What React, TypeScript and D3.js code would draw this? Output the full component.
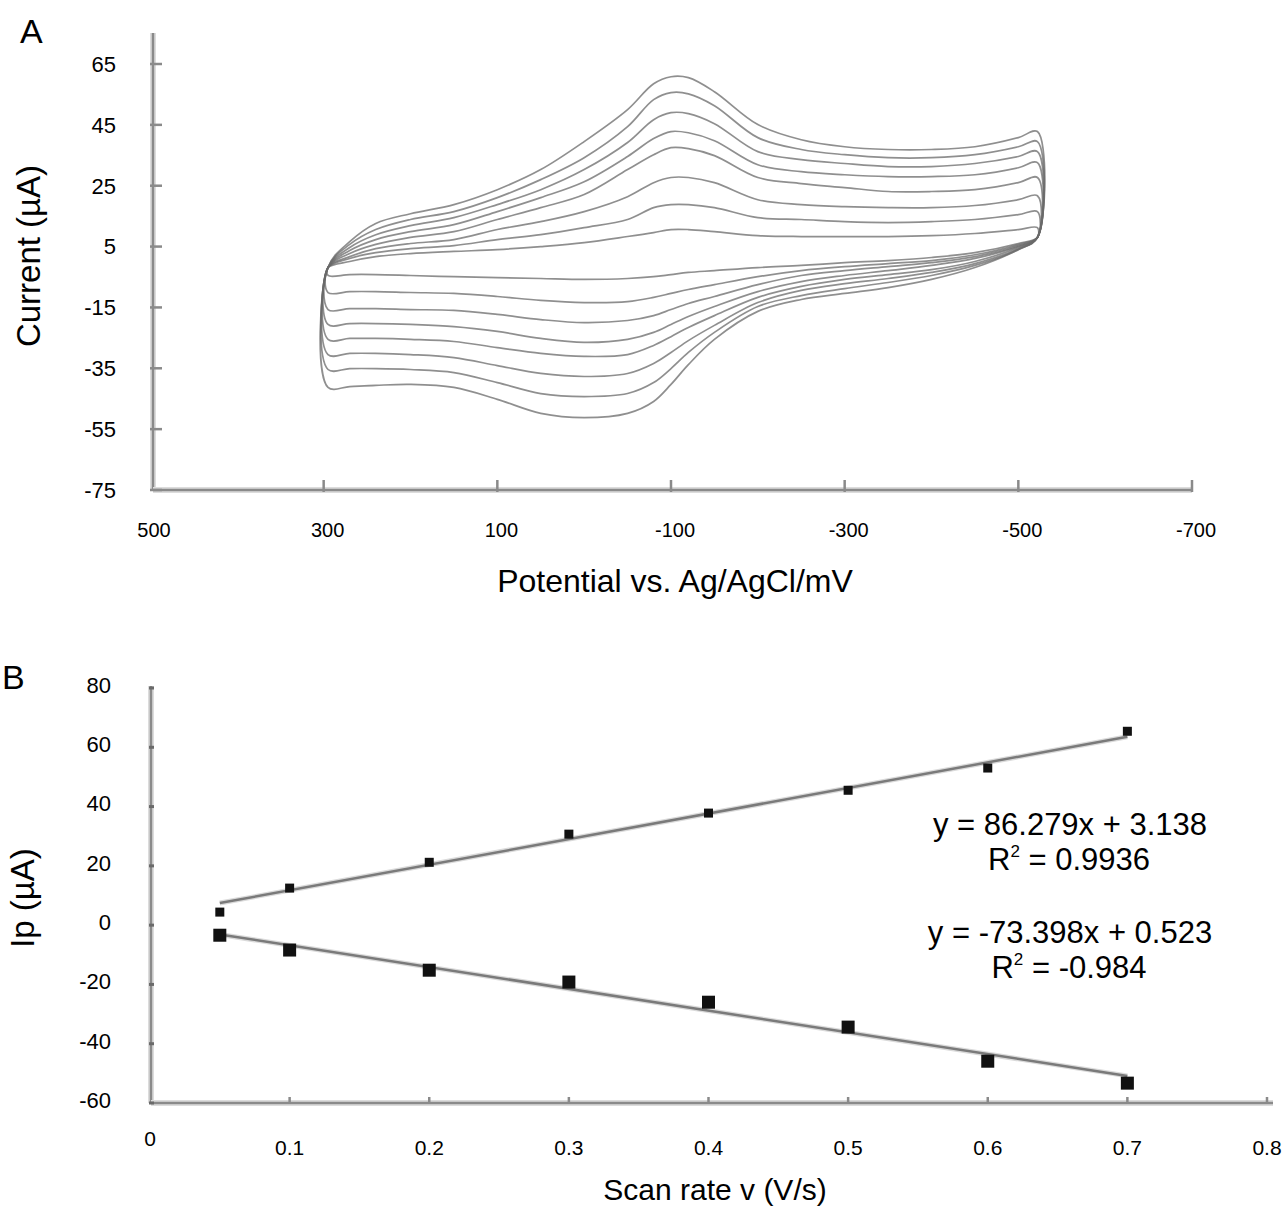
import { useEffect, useRef } from 'react';
import * as d3 from 'd3';

// potentials (mV) where each voltammogram was read
const potentials = [295, 270, 240, 200, 150, 100, 50, 0, -50, -80, -100, -120, -150, -200, -250, -300, -350, -400, -450, -500, -522];

// forward (upper) branches, uA, one per scan rate
const forwardScans = [
  [-1.9, 0.1, 1.7, 2.7, 3.4, 4.0, 5.0, 6.3, 8.3, 9.6, 10.6, 10.6, 9.9, 8.6, 8.3, 8.3, 8.3, 8.6, 9.3, 10.6, 11.2],
  [-1.9, 1.1, 3.0, 4.3, 5.3, 7.3, 8.9, 11.2, 13.9, 17.8, 18.8, 18.8, 17.8, 14.5, 13.9, 13.2, 12.9, 13.2, 13.9, 15.5, 16.5],
  [-1.9, 1.7, 4.3, 6.0, 7.3, 10.6, 13.2, 16.5, 21.4, 26.0, 27.7, 27.7, 26.0, 20.4, 18.8, 18.1, 17.8, 17.8, 18.5, 20.4, 21.7],
  [-1.9, 2.7, 5.7, 8.0, 9.9, 13.9, 17.8, 22.1, 30.3, 35.2, 37.5, 37.2, 34.9, 27.7, 25.7, 24.4, 23.1, 23.1, 23.7, 26.0, 27.7],
  [-1.9, 3.7, 7.3, 9.9, 12.2, 16.5, 21.1, 26.3, 34.6, 40.5, 42.8, 42.4, 39.8, 31.9, 29.6, 28.6, 28.0, 28.0, 28.6, 30.9, 32.6],
  [-1.9, 4.7, 8.9, 11.9, 14.5, 18.8, 23.7, 30.3, 39.2, 46.7, 49.0, 48.7, 45.4, 36.2, 33.6, 32.3, 31.3, 31.3, 32.3, 34.6, 36.2],
  [-1.9, 5.7, 10.6, 13.9, 16.5, 21.1, 27.0, 34.2, 44.4, 53.3, 55.6, 55.2, 51.3, 40.8, 36.9, 35.2, 34.2, 34.2, 35.2, 37.8, 39.5],
  [-1.9, 6.6, 12.6, 15.8, 18.8, 23.7, 30.3, 39.5, 50.0, 58.5, 60.8, 60.5, 55.9, 45.1, 40.1, 37.8, 36.9, 36.9, 37.8, 40.8, 42.8],
];

// reverse (lower) branches, uA, same potentials
const reverseScans = [
  [-4.5, -4.2, -4.2, -4.5, -4.9, -5.2, -5.5, -5.8, -5.5, -4.9, -4.2, -3.5, -2.9, -1.9, -1.2, -0.3, 0.4, 1.4, 3.0, 6.0, 8.0],
  [-10.1, -9.8, -9.8, -10.1, -10.4, -11.4, -12.7, -13.4, -13.1, -11.7, -10.4, -9.1, -7.5, -4.9, -2.9, -1.6, -0.6, 0.4, 2.3, 5.7, 8.0],
  [-15.7, -15.4, -15.4, -15.7, -16.0, -17.3, -19.0, -20.0, -19.3, -17.7, -15.7, -13.7, -11.4, -7.5, -4.5, -2.9, -1.6, -0.3, 1.7, 5.3, 8.0],
  [-20.6, -20.3, -20.3, -20.6, -21.3, -22.9, -25.2, -26.5, -25.5, -23.2, -20.6, -18.0, -14.7, -9.8, -6.5, -4.5, -2.9, -1.2, 1.1, 5.0, 8.0],
  [-25.5, -25.2, -25.2, -25.5, -26.2, -28.2, -30.1, -31.1, -30.5, -27.5, -24.6, -21.6, -17.7, -11.7, -8.1, -5.8, -4.2, -2.6, 0.1, 4.7, 8.0],
  [-30.5, -30.1, -30.1, -30.5, -31.5, -34.1, -36.7, -37.7, -36.7, -33.4, -29.8, -25.9, -20.9, -13.4, -9.4, -7.2, -5.5, -3.5, -0.6, 4.3, 8.0],
  [-35.4, -35.1, -35.1, -35.4, -36.4, -39.7, -43.3, -44.3, -43.3, -39.7, -35.1, -29.8, -23.2, -14.7, -11.1, -8.8, -6.8, -4.5, -1.2, 4.0, 8.0],
  [-41.3, -41.0, -40.6, -40.3, -41.3, -45.2, -49.8, -51.2, -49.8, -45.9, -40.3, -33.8, -25.5, -16.3, -12.4, -10.4, -8.5, -5.8, -1.9, 4.0, 8.0],
];

const cvTicksY = [65, 45, 25, 5, -15, -35, -55, -75];
const cvTicksX = [500, 300, 100, -100, -300, -500, -700];

const scanRates = [0.05, 0.1, 0.2, 0.3, 0.4, 0.5, 0.6, 0.7];
const anodicPeaks = [4.4, 12.5, 21.2, 30.7, 37.8, 45.5, 53.0, 65.4];
const cathodicPeaks = [-3.4, -8.4, -15.2, -19.2, -26.0, -34.4, -45.9, -53.3];

const ipTicksY = [80, 60, 40, 20, 0, -20, -40, -60];
const rateTicksX = [0, 0.1, 0.2, 0.3, 0.4, 0.5, 0.6, 0.7, 0.8];

const fitSlopes = [86.279, -73.398];
const fitIntercepts = [3.138, 0.523];
const fitEquations = ['y = 86.279x + 3.138', 'y = -73.398x + 0.523'];
const fitR2 = ['0.9936', '-0.984'];

const FONT = '"Liberation Sans", Arial, Helvetica, sans-serif';

const App = () => {
  const ref = useRef(null);

  useEffect(() => {
    const root = d3.select(ref.current);
    root.selectAll('*').remove();

    const svg = root.append('svg')
      .attr('width', 1288)
      .attr('height', 1210)
      .style('position', 'absolute')
      .style('left', 0)
      .style('top', 0)
      .style('background', '#fff')
      .style('font-family', FONT);

    const axisLine = (x1, y1, x2, y2) => {
      svg.append('line').attr('x1', x1).attr('y1', y1).attr('x2', x2).attr('y2', y2)
        .attr('stroke', '#dcdcdc').attr('stroke-width', 6);
      svg.append('line').attr('x1', x1).attr('y1', y1).attr('x2', x2).attr('y2', y2)
        .attr('stroke', '#8a8a8a').attr('stroke-width', 2.5);
    };

    // ---------- panel A ----------
    const xA = d3.scaleLinear().domain([500, -700]).range([150, 1192]);
    const yA = d3.scaleLinear().domain([65, -75]).range([64, 490]);
    const axA = 153;

    axisLine(axA, 33, axA, yA(-75));
    axisLine(axA, yA(-75), xA(-700), yA(-75));

    cvTicksY.forEach(t => {
      svg.append('line').attr('x1', axA - 3).attr('x2', axA + 9).attr('y1', yA(t)).attr('y2', yA(t))
        .attr('stroke', '#8a8a8a').attr('stroke-width', 2.5);
      svg.append('text').attr('x', 116).attr('y', yA(t)).attr('dy', '0.36em')
        .attr('text-anchor', 'end').style('font-size', '22px').text(t);
    });
    cvTicksX.forEach(t => {
      if (t !== 500) {
        svg.append('line').attr('x1', xA(t)).attr('x2', xA(t)).attr('y1', yA(-75) - 10).attr('y2', yA(-75) + 2)
          .attr('stroke', '#8a8a8a').attr('stroke-width', 2.5);
      }
      svg.append('text').attr('x', xA(t) + 4).attr('y', 530).attr('dy', '0.36em')
        .attr('text-anchor', 'middle').style('font-size', '20px').text(t);
    });

    const loop = d3.line()
      .x(d => xA(d[0]))
      .y(d => yA(d[1]))
      .curve(d3.curveCatmullRomClosed.alpha(0.5));

    forwardScans.forEach((fwd, i) => {
      const pts = potentials.map((e, j) => [e, fwd[j]]);
      const back = potentials.map((e, j) => [e, reverseScans[i][j]]).reverse();
      svg.append('path')
        .attr('d', loop(pts.concat(back)))
        .attr('fill', 'none')
        .attr('stroke', '#6a6a6a')
        .attr('stroke-opacity', 0.75)
        .attr('stroke-width', 1.7);
    });

    svg.append('text').attr('x', 675).attr('y', 580).attr('dy', '0.36em')
      .attr('text-anchor', 'middle').style('font-size', '32px').text('Potential vs. Ag/AgCl/mV');
    svg.append('text').attr('transform', 'translate(28,256) rotate(-90)').attr('dy', '0.36em')
      .attr('text-anchor', 'middle').style('font-size', '33px').text('Current (µA)');
    svg.append('text').attr('x', 20).attr('y', 43).style('font-size', '34px').text('A');

    // ---------- panel B ----------
    const xB = d3.scaleLinear().domain([0, 0.8]).range([150, 1267]);
    const yB = d3.scaleLinear().domain([80, -60]).range([688, 1103]);
    const axB = 151;

    axisLine(axB, yB(80) - 2, axB, yB(-60));
    axisLine(axB, yB(-60), xB(0.8) + 6, yB(-60));

    ipTicksY.forEach(t => {
      svg.append('line').attr('x1', axB - 2).attr('x2', axB + 3).attr('y1', yB(t)).attr('y2', yB(t))
        .attr('stroke', '#6a6a6a').attr('stroke-width', 3);
      svg.append('text').attr('x', 111).attr('y', yB(t) - 3).attr('dy', '0.36em')
        .attr('text-anchor', 'end').style('font-size', '22px').text(t);
    });
    rateTicksX.forEach(t => {
      if (t > 0) {
        svg.append('line').attr('x1', xB(t)).attr('x2', xB(t)).attr('y1', yB(-60) - 6).attr('y2', yB(-60) + 1)
          .attr('stroke', '#8a8a8a').attr('stroke-width', 2.5);
      }
      svg.append('text').attr('x', xB(t)).attr('y', t === 0 ? 1138 : 1147).attr('dy', '0.36em')
        .attr('text-anchor', 'middle').style('font-size', '21px').text(t);
    });

    const fitLine = d3.line().x(d => xB(d[0])).y(d => yB(d[1]));
    fitSlopes.forEach((m, i) => {
      const x0 = scanRates[0];
      const x1 = scanRates[scanRates.length - 1];
      const seg = fitLine([[x0, m * x0 + fitIntercepts[i]], [x1, m * x1 + fitIntercepts[i]]]);
      svg.append('path').attr('d', seg)
        .attr('stroke', '#dadada').attr('stroke-width', 5).attr('fill', 'none');
      svg.append('path').attr('d', seg)
        .attr('stroke', '#7a7a7a').attr('stroke-width', 2.5).attr('fill', 'none');
    });

    const marker = (vals, size) => {
      svg.append('g').selectAll('rect')
        .data(scanRates)
        .enter()
        .append('rect')
        .attr('x', (d) => xB(d) - size / 2)
        .attr('y', (d, i) => yB(vals[i]) - size / 2)
        .attr('width', size)
        .attr('height', size)
        .attr('fill', '#111');
    };
    marker(anodicPeaks, 9);
    marker(cathodicPeaks, 13);

    const eqY = [824, 932];
    fitEquations.forEach((eq, i) => {
      svg.append('text').attr('x', 1070).attr('y', eqY[i]).attr('dy', '0.36em')
        .attr('text-anchor', 'middle').style('font-size', '31px').text(eq);
      const r = svg.append('text').attr('x', 1069).attr('y', eqY[i] + 35).attr('dy', '0.36em')
        .attr('text-anchor', 'middle').style('font-size', '31px');
      r.append('tspan').text('R');
      r.append('tspan').attr('dy', -13).style('font-size', '17px').text('2');
      r.append('tspan').attr('dy', 13).text(' = ' + fitR2[i]);
    });

    svg.append('text').attr('x', 715).attr('y', 1189).attr('dy', '0.36em')
      .attr('text-anchor', 'middle').style('font-size', '30px').text('Scan rate v (V/s)');
    svg.append('text').attr('transform', 'translate(22,898) rotate(-90)').attr('dy', '0.36em')
      .attr('text-anchor', 'middle').style('font-size', '33px').text('Ip (µA)');
    svg.append('text').attr('x', 2).attr('y', 689).style('font-size', '34px').text('B');
  }, []);

  return <div ref={ref} />;
};

export default App;
